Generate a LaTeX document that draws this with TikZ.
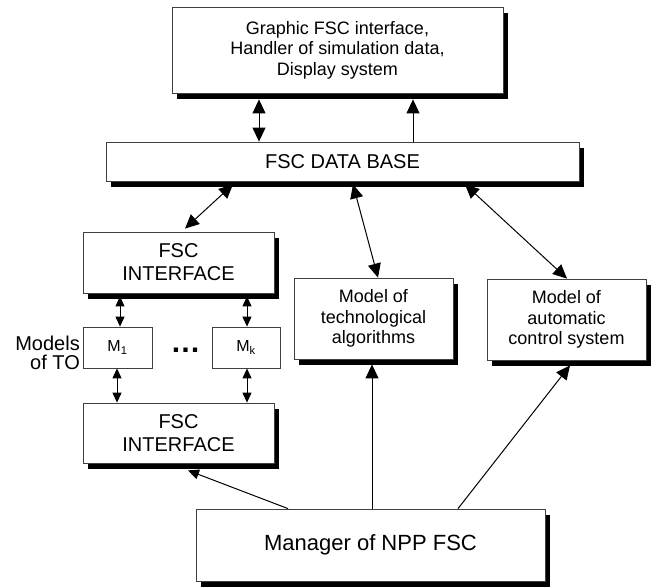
\documentclass[tikz,border=0pt]{standalone}
\usepackage{fontspec}
\setmainfont{Liberation Sans}
\usetikzlibrary{arrows.meta,shadows,calc}
\begin{document}
\begin{tikzpicture}[x=1pt,y=-1pt,
  box/.style={draw=black!75, line width=0.8pt, fill=white, rectangle, inner sep=0pt, align=center},
  shad/.style={drop shadow={fill=black, opacity=1, shadow xshift=5pt, shadow yshift=-5.5pt}},
  con/.style={line width=1pt},
  big/.style={->, >={Triangle[length=14pt,width=13pt]}},
  dbig/.style={<->, >={Triangle[length=14pt,width=13pt]}},
  dsmall/.style={<->, >={Triangle[length=10pt,width=9pt]}},
  small/.style={->, >={Triangle[length=11pt,width=10pt]}},
  f18/.style={font=\fontsize{18}{20.5}\selectfont},
  f20/.style={font=\fontsize{20}{23}\selectfont},
  f22/.style={font=\fontsize{22}{26}\selectfont}
]
\useasboundingbox (0,0) rectangle (653,587);

\node[box, shad, f18, minimum width=331pt, minimum height=86pt] (top) at (337.5,50)
  {Graphic FSC interface,\\Handler of simulation data,\\Display system};
\node[box, shad, f20, minimum width=473pt, minimum height=39pt] (db) at (342.5,161.5) {FSC DATA BASE};
\node[box, shad, f20, minimum width=191pt, minimum height=61pt] (ui) at (178.5,262.5) {FSC\\INTERFACE};
\node[box, font=\fontsize{16}{18}\selectfont, minimum width=69pt, minimum height=41pt] (m1) at (117.5,347.5) {M\textsubscript{1}};
\node[box, font=\fontsize{16}{18}\selectfont, minimum width=68pt, minimum height=41pt] (mk) at (246,347.5) {M\textsubscript{k}};
\node[inner sep=0pt, font=\fontsize{30}{30}\selectfont] (dots) at (185.5,350) {\textbf{…}};
\node[inner sep=0pt, anchor=east, align=right, font=\fontsize{20}{18.5}\selectfont] (lab) at (80,353) {Models\\of TO};
\node[box, shad, f20, minimum width=191pt, minimum height=60pt] (li) at (178.5,433) {FSC\\INTERFACE};
\node[box, shad, f18, minimum width=159pt, minimum height=81pt] (tech) at (373.5,318.5) {Model of\\technological\\algorithms};
\node[box, shad, f18, minimum width=159pt, minimum height=81pt] (acs) at (566.5,319.5) {Model of\\automatic\\control system};
\node[box, shad, f22, minimum width=349pt, minimum height=72pt] (mgr) at (370.5,545) {Manager of NPP FSC};

% top connections
\draw[con, dbig] ([xshift=-83.5pt]db.north) -- ([xshift=-78.5pt,yshift=-6pt]top.south);
\draw[con, big] ([xshift=70.5pt]db.north) -- ([xshift=75.5pt,yshift=-6pt]top.south);
% data base to modules
\draw[con, dbig] ([xshift=-109.5pt,yshift=-3pt]db.south) -- ([xshift=6.5pt,yshift=3pt]ui.north);
\draw[con, dbig] ([xshift=10.5pt,yshift=-3pt]db.south) -- ([xshift=4.5pt]tech.north);
\draw[con, dbig] ([xshift=122.5pt,yshift=-3pt]db.south) -- ([xshift=0.5pt]acs.north);
% interfaces and models of TO
\draw[con, dsmall] ([xshift=-58.5pt,yshift=-3pt]ui.south) -- ([xshift=2.5pt]m1.north);
\draw[con, dsmall] ([xshift=68.5pt,yshift=-3pt]ui.south) -- ([xshift=1pt]mk.north);
\draw[con, dsmall] ([xshift=-0.5pt]m1.south) -- ([xshift=-61.5pt]li.north);
\draw[con, dsmall] ([xshift=1pt]mk.south) -- ([xshift=68.5pt]li.north);
% manager
\draw[con, small] ([xshift=-82.5pt]mgr.north) -- ([xshift=9.5pt,yshift=-7pt]li.south);
\draw[con, big] ([xshift=1.5pt]mgr.north) -- ([xshift=-1.5pt,yshift=-5pt]tech.south);
\draw[con, big] ([xshift=87.5pt]mgr.north) -- ([xshift=3.5pt,yshift=-5pt]acs.south);
\end{tikzpicture}
\end{document}
